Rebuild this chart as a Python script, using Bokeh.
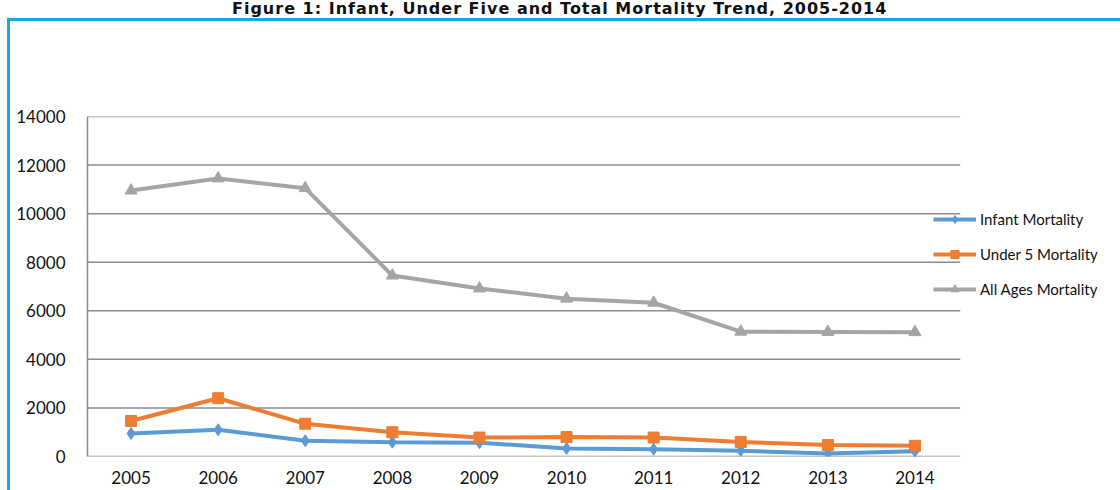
from bokeh.plotting import figure
from bokeh.models import Legend, LegendItem, Range1d, FixedTicker, Div
from bokeh.layouts import column
from bokeh.embed import file_html
from bokeh.resources import INLINE

years = [2005, 2006, 2007, 2008, 2009, 2010, 2011, 2012, 2013, 2014]
infant = [950, 1100, 650, 590, 570, 330, 300, 240, 120, 220]
under5 = [1460, 2400, 1350, 1000, 780, 800, 780, 600, 470, 440]
all_ages = [10950, 11450, 11050, 7450, 6920, 6500, 6330, 5140, 5130, 5120]
y_ticks = [0, 2000, 4000, 6000, 8000, 10000, 12000, 14000]
series_names = ["Infant Mortality", "Under 5 Mortality", "All Ages Mortality"]
title_text = "Figure 1: Infant, Under Five and Total Mortality Trend, 2005-2014"

BLUE, ORANGE, GRAY = "#5b9bd5", "#ed7d31", "#a5a5a5"
GRID = "#8c8c8c"
FRAME_BLUE = "#17a9e1"

title_div = Div(text=title_text, width=1120, height=18, margin=0,
                styles={"font-family": "DejaVu Sans", "font-weight": "bold", "font-size": "16px",
                        "letter-spacing": "1px", "line-height": "18px", "color": "#111111",
                        "white-space": "nowrap", "text-indent": "232px", "overflow": "visible"})

x_start, x_last = years[0] - 0.5, years[-1] + 0.5
p = figure(x_range=Range1d(x_start, 2016.36), y_range=Range1d(0, 14000),
           width=1120, height=472, output_backend="svg", toolbar_location=None,
           min_border_left=87, min_border_right=0, min_border_top=98, min_border_bottom=34)
p.margin = 0

p.border_fill_alpha = 0
p.styles = {
    "background-color": "white",
    "background-image": f"linear-gradient({FRAME_BLUE}, {FRAME_BLUE}), linear-gradient({FRAME_BLUE}, {FRAME_BLUE})",
    "background-size": "3px 600px, 1200px 3px",
    "background-position": "7px 0px, 7px 0px",
    "background-repeat": "no-repeat",
}

# horizontal grid lines, stopping at the end of the category area
p.segment(x0=[x_start] * len(y_ticks), x1=[x_last + 0.02] * len(y_ticks), y0=y_ticks, y1=y_ticks,
          line_color=GRID, line_width=1.5)

r1 = p.line(years, infant, line_color=BLUE, line_width=4)
s1 = p.scatter(years, infant, marker="diamond", size=12, fill_color=BLUE, line_color=BLUE)
r2 = p.line(years, under5, line_color=ORANGE, line_width=4)
s2 = p.scatter(years, under5, marker="square", size=11, fill_color=ORANGE, line_color=ORANGE)
r3 = p.line(years, all_ages, line_color=GRAY, line_width=4)
s3 = p.scatter(years, all_ages, marker="triangle", size=12, fill_color=GRAY, line_color=GRAY)

legend = Legend(items=[LegendItem(label=series_names[0], renderers=[r1, s1]),
                       LegendItem(label=series_names[1], renderers=[r2, s2]),
                       LegendItem(label=series_names[2], renderers=[r3, s3])],
                location=(846, 157), orientation="vertical",
                glyph_width=43, glyph_height=20, label_height=20, spacing=15,
                padding=0, margin=0, label_standoff=4,
                background_fill_alpha=0, border_line_alpha=0,
                label_text_font="Lato", label_text_font_size="15px", label_text_color="#111111")
p.add_layout(legend)

p.xgrid.visible = False
p.ygrid.visible = False
p.outline_line_color = None
p.background_fill_color = "white"

p.xaxis.ticker = FixedTicker(ticks=years)
p.yaxis.ticker = FixedTicker(ticks=y_ticks)
p.xaxis.axis_line_color = None
p.yaxis.axis_line_color = GRID
p.yaxis.axis_line_width = 1.5
for ax in (p.xaxis[0], p.yaxis[0]):
    ax.major_tick_in = 0
    ax.major_tick_out = 0
    ax.minor_tick_in = 0
    ax.minor_tick_out = 0
    ax.major_label_text_font = "Lato"
    ax.major_label_text_font_size = "17px"
    ax.major_label_text_color = "#111111"
p.yaxis.major_label_standoff = 22
p.xaxis.major_label_standoff = 14

layout = column(title_div, p, spacing=0)
open("out.html", "w").write(file_html(layout, INLINE))
